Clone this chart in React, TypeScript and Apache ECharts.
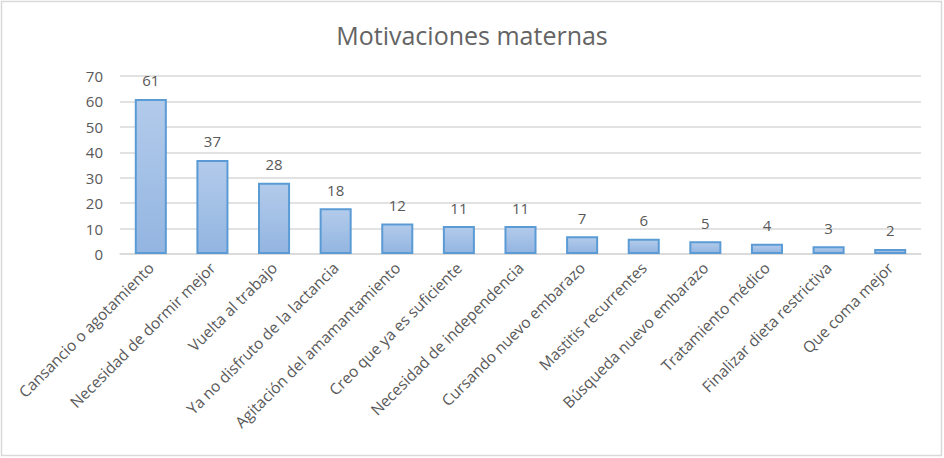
import React, { useEffect, useRef } from "react";
import * as echarts from "echarts";

const categories = [
  "Cansancio o agotamiento",
  "Necesidad de dormir mejor",
  "Vuelta al trabajo",
  "Ya no disfruto de la lactancia",
  "Agitación del amamantamiento",
  "Creo que ya es suficiente",
  "Necesidad de independencia",
  "Cursando nuevo embarazo",
  "Mastitis recurrentes",
  "Búsqueda nuevo embarazo",
  "Tratamiento médico",
  "Finalizar dieta restrictiva",
  "Que coma mejor",
];
const values = [61, 37, 28, 18, 12, 11, 11, 7, 6, 5, 4, 3, 2];
const title = "Motivaciones maternas";

export default function App() {
  const ref = useRef<HTMLDivElement>(null);
  useEffect(() => {
    if (!ref.current) return;
    const chart = echarts.init(ref.current, null, { renderer: "svg" });
    const font = "Open Sans";
    chart.setOption({
      animation: false,
      backgroundColor: "#ffffff",
      title: {
        text: title,
        left: "center",
        top: 17,
        textStyle: { fontFamily: font, fontSize: 25, fontWeight: "normal", color: "#646464" },
      },
      graphic: [
        {
          type: "rect",
          shape: { x: 1.5, y: 1.5, width: 940, height: 454 },
          style: { fill: "none", stroke: "#d9d9d9", lineWidth: 1.5 },
          silent: true,
        },
      ],
      grid: { left: 120, right: 23, top: 76, bottom: 204, containLabel: false },
      xAxis: {
        type: "category",
        data: categories,
        axisLine: { lineStyle: { color: "#d9d9d9", width: 1.5 } },
        axisTick: { show: false },
        axisLabel: {
          rotate: 45,
          interval: 0,
          margin: 11,
          fontFamily: font,
          fontSize: 15.5,
          color: "#595959",
        },
      },
      yAxis: {
        type: "value",
        min: 0,
        max: 70,
        interval: 10,
        axisLine: { show: false },
        axisTick: { show: false },
        splitLine: { lineStyle: { color: "#d9d9d9", width: 1.5 } },
        axisLabel: { margin: 17, fontFamily: font, fontSize: 15, color: "#595959" },
      },
      series: [
        {
          type: "bar",
          data: values,
          barWidth: "52%",
          itemStyle: {
            color: new echarts.graphic.LinearGradient(0, 0, 0, 1, [
              { offset: 0, color: "#b3cbeb" },
              { offset: 1, color: "#93b5e1" },
            ]),
            borderColor: "#5b9bd5",
            borderWidth: 2,
          },
          label: {
            show: true,
            position: "top",
            distance: 11,
            fontFamily: font,
            fontSize: 15,
            color: "#595959",
          },
        },
      ],
    });
    return () => chart.dispose();
  }, []);
  return (
    <div
      ref={ref}
      style={{ position: "absolute", left: 0, top: 0, width: 944, height: 458 }}
    />
  );
}
